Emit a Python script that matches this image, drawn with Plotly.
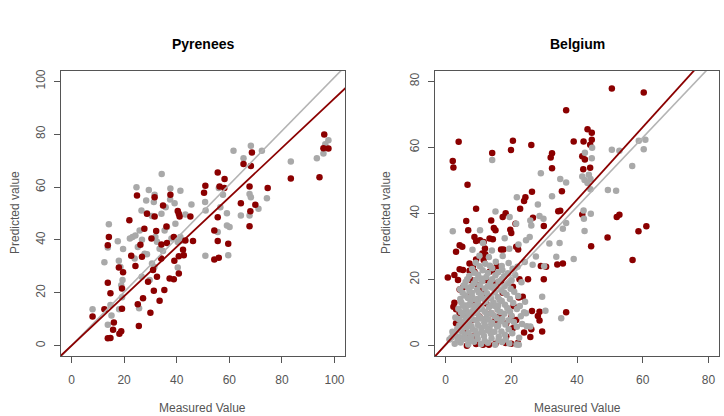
import plotly.graph_objects as go

# ---------------- Pyrenees (left panel) ----------------
pyr_gray = [
    (8.0, 13.8), (12.5, 31.6), (14.2, 45.9), (13.8, 37.1), (17.6, 39.5), (18.0, 32.1),
    (18.6, 29.8), (19.6, 36.6), (19.4, 24.8), (18.9, 22.9), (19.2, 18.3), (18.1, 13.8),
    (14.8, 15.4), (15.2, 11.4), (13.8, 7.9), (24.7, 59.9), (29.4, 58.9), (31.6, 57.1),
    (34.3, 64.9), (37.6, 59.4), (41.4, 58.6), (28.4, 54.9), (31.3, 54.3), (26.6, 51.1),
    (28.7, 50.1), (30.6, 49.0), (34.2, 49.9), (35.8, 52.4), (37.5, 55.3), (39.2, 53.9),
    (22.2, 40.5), (23.2, 41.1), (24.3, 41.7), (25.9, 43.6), (26.8, 40.1), (25.2, 37.3),
    (27.8, 34.8), (28.7, 34.6), (30.6, 31.1), (31.9, 41.1), (32.5, 39.3), (33.5, 36.7),
    (34.8, 35.8), (35.4, 43.6), (36.3, 44.9), (39.5, 46.1), (41.4, 41.1), (42.0, 39.8),
    (40.4, 39.2), (43.3, 49.6), (45.6, 53.4), (40.4, 29.6), (31.5, 29.8), (26.7, 26.1),
    (25.7, 14.2), (29.7, 24.8), (50.8, 54.3), (51.0, 51.1), (50.9, 34.0), (55.6, 43.0),
    (56.6, 52.4), (56.0, 59.6), (57.6, 57.1), (59.1, 50.1), (59.1, 45.5), (60.1, 44.9),
    (59.6, 34.2), (61.6, 73.7), (65.4, 70.9), (68.2, 75.6), (67.7, 57.4), (68.2, 56.1),
    (64.4, 49.2), (67.7, 49.2), (71.1, 51.8), (72.4, 73.7), (74.3, 55.8), (83.4, 69.7),
    (93.3, 70.9), (95.8, 72.7), (96.5, 76.2), (97.7, 77.7), (24.0, 33.0), (38.0, 40.5),
]
pyr_red = [
    (8.0, 11.0), (12.5, 13.8), (13.8, 38.0), (14.2, 41.1), (13.8, 23.8), (14.8, 19.8),
    (13.8, 2.8), (14.8, 2.9), (16.1, 8.8), (15.8, 6.0), (18.2, 4.5), (18.9, 5.5),
    (18.0, 29.6), (19.6, 27.8), (19.2, 21.6), (19.2, 14.0), (22.0, 47.4), (22.7, 34.0),
    (24.3, 30.1), (24.9, 56.8), (25.2, 15.7), (25.6, 7.5), (26.2, 38.2), (26.8, 33.6),
    (27.2, 17.9), (27.7, 44.2), (28.7, 49.9), (29.1, 24.2), (30.0, 12.5), (30.4, 40.5),
    (31.0, 28.6), (31.3, 20.8), (31.6, 48.9), (32.2, 43.4), (32.5, 26.1), (31.6, 56.1),
    (33.5, 17.0), (34.2, 38.3), (34.8, 53.0), (34.1, 33.0), (35.3, 21.1), (36.1, 45.1),
    (36.3, 38.8), (37.6, 57.1), (37.3, 25.4), (38.9, 41.1), (38.9, 25.1), (39.1, 32.1),
    (40.4, 50.9), (40.8, 49.9), (41.1, 48.9), (40.8, 33.8), (40.8, 27.3), (42.4, 36.3),
    (42.7, 34.2), (43.3, 39.8), (45.2, 48.9), (46.2, 39.6), (50.9, 60.5), (50.4, 57.8),
    (54.3, 43.6), (54.3, 32.6), (55.6, 65.5), (55.6, 48.6), (55.6, 39.6), (56.0, 33.3),
    (56.3, 60.2), (58.2, 63.0), (58.1, 59.6), (59.6, 38.6), (65.4, 68.7), (64.4, 53.9),
    (67.7, 60.2), (68.2, 68.0), (68.6, 73.1), (68.0, 50.8), (67.7, 45.2), (69.9, 53.3),
    (74.6, 59.6), (83.4, 63.2), (94.3, 63.7), (96.1, 79.9), (95.8, 74.7), (97.7, 74.6),
]

# ---------------- Belgium (right panel) ----------------
bel_gray = [
    (2.8, 0.6), (4.6, 1.0), (6.9, 0.4), (8.7, 1.2), (10.8, 0.5), (12.9, 0.9), (15.1, 0.3),
    (17.2, 1.1), (19.4, 0.7), (21.6, 0.4), (2.3, 3.1), (4.1, 2.6), (5.8, 3.4), (7.9, 2.8),
    (9.6, 3.5), (11.7, 2.9), (13.8, 3.6), (16.2, 2.7), (18.1, 3.3), (22.4, 2.4), (3.6, 5.2),
    (6.4, 5.6), (8.3, 4.9), (10.9, 5.4), (13.4, 5.1), (15.7, 5.8), (19.2, 5.0), (24.7, 5.9),
    (4.9, 7.3), (7.1, 6.8), (9.4, 7.6), (11.8, 7.1), (14.2, 6.9), (16.8, 7.4), (20.8, 7.2),
    (23.3, 6.6), (5.4, 9.2), (7.8, 9.6), (10.2, 8.8), (12.6, 9.4), (14.9, 9.0), (17.9, 9.7),
    (20.1, 9.1), (22.9, 8.9), (3.9, 11.2), (6.2, 10.8), (8.9, 11.5), (11.1, 11.0), (13.2, 11.6),
    (15.8, 10.9), (18.8, 11.4), (21.7, 11.1), (4.8, 13.1), (7.6, 13.6), (9.9, 12.8), (12.2, 13.4),
    (14.6, 13.0), (17.1, 13.5), (20.6, 12.9), (24.2, 13.3), (5.9, 15.2), (8.1, 14.8), (10.8, 15.6),
    (13.1, 15.1), (15.9, 14.7), (18.6, 15.4), (22.1, 15.0), (4.4, 17.1), (6.9, 17.5), (9.6, 16.9),
    (11.9, 17.3), (14.1, 17.6), (16.9, 16.8), (19.8, 17.2), (6.1, 19.3), (8.6, 18.8), (11.2, 19.5),
    (13.6, 19.0), (16.1, 19.4), (19.1, 18.9), (23.1, 19.2), (7.2, 21.1), (9.9, 21.5), (12.4, 20.8),
    (15.2, 21.3), (17.8, 21.0), (21.2, 21.4), (8.1, 23.2), (11.3, 22.8), (14.2, 23.4), (17.3, 22.9),
    (20.4, 23.3), (9.2, 25.1), (12.1, 24.8), (15.3, 25.4), (19.2, 25.0), (24.1, 25.3), (10.3, 27.2),
    (13.2, 26.8), (17.4, 27.1), (8.2, 29.0), (14.1, 28.8), (19.4, 29.3), (11.4, 31.1), (22.2, 30.6),
    (1.2, 1.9), (1.8, 2.5), (2.1, 4.2), (3.0, 8.5), (6.0, 12.2), (10.0, 14.1), (12.0, 8.1),
    (8.0, 16.0), (16.0, 12.2), (7.0, 2.0), (11.0, 4.2), (9.0, 10.0), (13.0, 17.9), (5.0, 6.0),
    # dense core
    (3.7, 1.8), (5.7, 2.0), (7.8, 1.6), (9.8, 2.1), (11.9, 1.5), (14.0, 2.2), (16.1, 1.7), (18.3, 1.9),
    (3.0, 4.1), (4.9, 4.4), (7.0, 3.9), (9.1, 4.5), (11.2, 4.0), (12.8, 4.6), (14.9, 4.2), (17.0, 4.3),
    (20.3, 3.8), (4.2, 6.2), (6.0, 6.4), (7.9, 5.9), (9.9, 6.3), (12.1, 6.0), (13.9, 6.5), (16.0, 6.1),
    (18.2, 6.4), (21.7, 5.7), (4.0, 8.1), (6.3, 8.3), (8.4, 7.9), (10.7, 8.2), (13.1, 7.9), (15.6, 8.3),
    (17.3, 8.1), (19.2, 7.7), (4.7, 10.1), (6.9, 9.9), (8.1, 10.4), (9.6, 10.0), (12.0, 10.3),
    (13.9, 9.9), (16.7, 10.2), (19.6, 10.4), (23.9, 10.1), (5.3, 12.1), (7.1, 12.3), (8.7, 12.0),
    (10.6, 11.9), (13.8, 12.2), (15.1, 12.0), (18.1, 12.4), (22.6, 12.0), (4.5, 14.1), (6.8, 14.4),
    (9.1, 14.0), (11.6, 14.2), (13.9, 14.3), (16.4, 13.9), (19.6, 14.1), (5.2, 16.0), (7.3, 16.3),
    (10.1, 16.1), (12.6, 15.9), (15.0, 16.2), (17.8, 16.1), (20.9, 16.3), (5.5, 18.2), (7.9, 18.0),
    (10.4, 18.3), (12.9, 18.1), (15.2, 17.9), (18.0, 18.1), (6.6, 20.1), (9.2, 19.9), (10.9, 20.3),
    (14.2, 20.1), (17.2, 20.2), (20.1, 19.8), (8.7, 22.1), (12.9, 22.0), (16.0, 22.2), (19.0, 21.9),
    (10.4, 24.0), (13.5, 24.2), (17.1, 24.1), (21.9, 23.9),
    # outliers
    (2.2, 34.6), (14.2, 56.2), (29.0, 52.2), (34.9, 50.4), (36.7, 49.4), (32.4, 45.2), (21.7, 44.9),
    (10.5, 34.9), (15.2, 40.6), (19.5, 38.9), (21.5, 36.9), (28.1, 42.7), (28.6, 39.2), (29.8, 38.4),
    (25.8, 37.9), (26.1, 36.4), (35.7, 35.4), (36.7, 37.1), (33.7, 26.9), (39.0, 26.2), (34.7, 31.1),
    (31.6, 30.9), (25.6, 32.9), (24.5, 31.9), (29.4, 14.8), (30.4, 10.6), (35.2, 8.3), (24.5, 9.8),
    (25.8, 5.8), (22.3, 0.3), (41.6, 51.2), (42.3, 50.1), (43.6, 51.7), (43.2, 49.2), (42.4, 58.4),
    (44.6, 59.9), (44.5, 56.7), (44.1, 50.4), (42.0, 40.9), (42.1, 38.4), (42.3, 34.7), (44.2, 39.9),
    (44.1, 47.3), (49.4, 47.1), (51.9, 46.9), (50.6, 59.3), (52.9, 59.0), (56.8, 54.4), (58.8, 62.0),
    (60.8, 62.3), (60.3, 59.4), (27.5, 27.0), (26.5, 24.5), (18.0, 32.5), (30.0, 24.0),
]
bel_red = [
    (2.2, 55.9), (2.4, 53.9), (4.0, 61.7), (6.7, 48.7), (9.3, 41.4), (0.7, 20.6), (19.9, 59.2),
    (20.5, 62.0), (14.2, 58.3), (26.1, 60.7), (32.4, 58.2), (32.0, 56.9), (32.4, 53.7), (36.7, 71.2),
    (39.0, 61.8), (42.0, 61.8), (43.2, 65.5), (44.5, 64.4), (44.5, 62.3), (44.0, 60.8), (41.6, 57.3),
    (42.4, 56.3), (41.9, 53.4), (44.0, 53.8), (50.6, 77.8), (60.3, 76.6), (35.4, 46.7), (34.3, 40.7),
    (34.9, 40.8), (41.6, 39.7), (44.3, 30.1), (49.3, 32.7), (52.1, 38.9), (52.9, 39.6), (58.7, 34.6),
    (61.1, 36.1), (56.9, 25.9), (36.7, 10.1), (34.0, 24.6), (35.7, 24.9), (29.0, 24.1), (30.6, 23.9),
    (29.9, 20.1), (29.9, 36.2), (26.3, 46.6), (24.3, 44.9), (23.9, 43.8), (22.7, 41.4), (26.6, 38.7),
    (26.1, 5.0), (25.8, 2.6), (29.4, 4.3), (28.6, 10.3), (28.1, 9.0), (28.6, 7.6), (26.3, 10.5),
    (23.9, 4.0), (22.0, 0.8), (20.0, 0.6), (18.3, 0.8),
    (6.3, 37.7), (6.9, 34.9), (3.2, 28.4), (4.3, 30.4), (5.1, 29.9), (8.8, 32.9), (9.3, 31.7),
    (10.5, 31.9), (11.6, 31.4), (12.0, 29.4), (11.2, 27.9), (12.1, 27.7), (13.4, 32.4), (14.4, 32.2),
    (13.9, 37.9), (14.7, 35.6), (15.2, 34.9), (16.9, 29.1), (17.6, 29.1), (18.3, 40.1), (17.4, 38.9),
    (19.7, 35.1), (20.0, 34.1), (21.3, 36.9), (21.5, 29.9), (22.1, 29.1), (7.3, 24.9), (8.3, 23.9),
    (8.8, 22.4), (7.3, 22.7), (4.3, 23.1), (5.3, 22.9), (2.7, 21.4), (3.8, 19.9), (4.3, 17.0),
    (5.3, 17.6), (13.4, 22.4), (14.4, 22.9), (15.6, 24.1), (12.2, 19.9), (10.9, 16.8), (11.5, 15.8),
    (15.4, 18.8), (16.9, 19.6), (17.4, 16.0), (20.5, 17.8), (22.5, 20.1), (25.1, 20.1), (22.3, 14.6),
    (23.5, 14.8), (20.7, 12.0), (2.4, 11.8), (3.2, 11.0), (4.3, 9.8), (3.2, 6.8), (6.3, 3.8),
    (6.5, 0.0), (8.3, 2.8), (9.3, 0.5), (11.4, 0.3), (13.2, 0.3), (15.2, 0.6), (7.3, 14.8),
    (8.8, 12.8), (9.8, 14.0), (10.3, 8.8), (8.3, 7.8), (12.4, 12.8), (13.9, 9.8), (15.2, 7.8),
    (16.4, 8.8), (18.5, 6.8), (20.0, 8.8), (20.5, 5.3), (18.5, 2.8), (21.5, 7.8), (2.7, 13.0),
    (9.8, 18.3), (7.8, 19.9), (9.3, 26.1), (11.6, 25.9),
]

# fitted lines: (intercept, slope)
pyr_gray_line = (0.0, 1.015)
pyr_red_line = (0.0, 0.935)
bel_gray_line = (0.14, 1.047)
bel_red_line = (0.29, 1.097)

pyr_range = [-4, 104]
bel_range = [-3.2, 83.2]
pyr_ticks = [0, 20, 40, 60, 80, 100]
bel_ticks = [0, 20, 40, 60, 80]

GRAY = "#a9a9a9"
RED = "#8b0000"
LINE_GRAY = "#b4b4b4"
AXC = "#555555"
FONT = "Liberation Sans, Arial, sans-serif"

W, H = 724, 416

fig = go.Figure()


def add_points(pts, color, xa, ya):
    fig.add_trace(go.Scatter(
        x=[p[0] for p in pts], y=[p[1] for p in pts], mode="markers",
        marker=dict(color=color, size=6.5, line=dict(width=0)),
        xaxis=xa, yaxis=ya, showlegend=False, hoverinfo="skip"))


def add_line(coef, rng, color, width, xa, ya):
    a, b = coef
    xs = [rng[0] - 10, rng[1] + 10]
    fig.add_trace(go.Scatter(
        x=xs, y=[a + b * v for v in xs], mode="lines",
        line=dict(color=color, width=width),
        xaxis=xa, yaxis=ya, showlegend=False, hoverinfo="skip"))


# left
add_points(pyr_gray, GRAY, "x", "y")
add_points(pyr_red, RED, "x", "y")
add_line(pyr_gray_line, pyr_range, LINE_GRAY, 1.6, "x", "y")
add_line(pyr_red_line, pyr_range, RED, 1.8, "x", "y")
# right
add_points(bel_red, RED, "x2", "y2")
add_points(bel_gray, GRAY, "x2", "y2")
add_line(bel_gray_line, bel_range, LINE_GRAY, 1.6, "x2", "y2")
add_line(bel_red_line, bel_range, RED, 1.8, "x2", "y2")


def axis(domain, rng, ticks, anchor, vertical=False):
    d = dict(domain=domain, range=rng, tickvals=ticks, ticktext=[str(t) for t in ticks],
             ticks="outside", ticklen=6, tickcolor=AXC, tickwidth=1,
             showline=True, linecolor=AXC, linewidth=1, mirror=True,
             showgrid=False, zeroline=False, anchor=anchor,
             tickfont=dict(family=FONT, size=12, color=AXC), fixedrange=True)
    if vertical:
        d["tickangle"] = -90
        d["ticklabelstandoff"] = 4
    else:
        d["ticklabelstandoff"] = 6
    return d


ydom = [(H - 356) / H, (H - 69) / H]
fig.update_layout(
    width=W, height=H, margin=dict(l=0, r=0, t=0, b=0),
    paper_bgcolor="white", plot_bgcolor="white",
    xaxis=axis([61 / W, 345 / W], pyr_range, pyr_ticks, "y"),
    yaxis=axis(ydom, pyr_range, pyr_ticks, "x", True),
    xaxis2=axis([435 / W, 719 / W], bel_range, bel_ticks, "y2"),
    yaxis2=axis(ydom, bel_range, bel_ticks, "x2", True),
)

ann = [
    dict(text="<b>Pyrenees</b>", x=203, y=42, size=14, color="black", angle=0),
    dict(text="<b>Belgium</b>", x=577, y=42, size=14, color="black", angle=0),
    dict(text="Measured Value", x=203, y=408, size=12, color=AXC, angle=0),
    dict(text="Measured Value", x=577, y=408, size=12, color=AXC, angle=0),
    dict(text="Predicted value", x=15, y=212, size=12, color=AXC, angle=-90),
    dict(text="Predicted value", x=386, y=212, size=12, color=AXC, angle=-90),
]
for a in ann:
    fig.add_annotation(text=a["text"], x=a["x"] / W, y=1 - a["y"] / H, xref="paper", yref="paper",
                       showarrow=False, textangle=a["angle"], xanchor="center", yanchor="middle",
                       font=dict(family=FONT, size=a["size"], color=a["color"]))

fig.write_html("out.html")
